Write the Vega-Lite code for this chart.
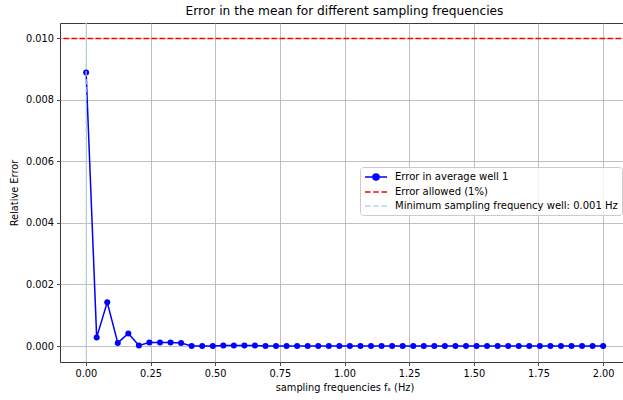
{
  "$schema": "https://vega.github.io/schema/vega-lite/v6.json",
  "width": 569,
  "height": 339,
  "autosize": {"type": "none"},
  "padding": {"left": 60, "top": 23, "right": 0, "bottom": 38},
  "title": {"text": "Error in the mean for different sampling frequencies", "fontSize": 12.2, "fontWeight": "normal", "font": "DejaVu Sans", "color": "#000", "anchor": "middle", "offset": 5},
  "config": {
    "font": "DejaVu Sans",
    "view": {"stroke": "#3a3a3a", "strokeWidth": 1},
    "axis": {"domain": false, "grid": true, "gridColor": "#b0b0b0", "gridWidth": 0.8, "tickColor": "#222", "tickSize": 3.5, "tickWidth": 0.8, "labelFontSize": 9.8, "labelColor": "#000", "titleFontSize": 9.8, "titleFontWeight": "normal", "titleColor": "#000", "labelPadding": 3, "labelFont": "DejaVu Sans", "titleFont": "DejaVu Sans"}
  },
  "datasets": {
    "err": [
      {"f": 0.001, "err": 0.00889, "series": "Error in average well 1"},
      {"f": 0.0418, "err": 0.00028, "series": "Error in average well 1"},
      {"f": 0.0826, "err": 0.00142, "series": "Error in average well 1"},
      {"f": 0.1234, "err": 0.0001, "series": "Error in average well 1"},
      {"f": 0.1642, "err": 0.00041, "series": "Error in average well 1"},
      {"f": 0.205, "err": 0.00002, "series": "Error in average well 1"},
      {"f": 0.2458, "err": 0.000117, "series": "Error in average well 1"},
      {"f": 0.2866, "err": 0.000117, "series": "Error in average well 1"},
      {"f": 0.3274, "err": 0.000117, "series": "Error in average well 1"},
      {"f": 0.3682, "err": 0.0001, "series": "Error in average well 1"},
      {"f": 0.409, "err": 0.0, "series": "Error in average well 1"},
      {"f": 0.4498, "err": 0.0, "series": "Error in average well 1"},
      {"f": 0.4906, "err": 0.0, "series": "Error in average well 1"},
      {"f": 0.5314, "err": 0.00002, "series": "Error in average well 1"},
      {"f": 0.5721, "err": 0.00002, "series": "Error in average well 1"},
      {"f": 0.6129, "err": 0.00002, "series": "Error in average well 1"},
      {"f": 0.6537, "err": 0.00002, "series": "Error in average well 1"},
      {"f": 0.6945, "err": 0.0, "series": "Error in average well 1"},
      {"f": 0.7353, "err": 0.0, "series": "Error in average well 1"},
      {"f": 0.7761, "err": 0.0, "series": "Error in average well 1"},
      {"f": 0.8169, "err": 0.0, "series": "Error in average well 1"},
      {"f": 0.8577, "err": 0.0, "series": "Error in average well 1"},
      {"f": 0.8985, "err": 0.0, "series": "Error in average well 1"},
      {"f": 0.9393, "err": 0.0, "series": "Error in average well 1"},
      {"f": 0.9801, "err": 0.0, "series": "Error in average well 1"},
      {"f": 1.0209, "err": 0.0, "series": "Error in average well 1"},
      {"f": 1.0617, "err": 0.0, "series": "Error in average well 1"},
      {"f": 1.1025, "err": 0.0, "series": "Error in average well 1"},
      {"f": 1.1433, "err": 0.0, "series": "Error in average well 1"},
      {"f": 1.1841, "err": 0.0, "series": "Error in average well 1"},
      {"f": 1.2249, "err": 0.0, "series": "Error in average well 1"},
      {"f": 1.2657, "err": 0.0, "series": "Error in average well 1"},
      {"f": 1.3065, "err": 0.0, "series": "Error in average well 1"},
      {"f": 1.3473, "err": 0.0, "series": "Error in average well 1"},
      {"f": 1.3881, "err": 0.0, "series": "Error in average well 1"},
      {"f": 1.4289, "err": 0.0, "series": "Error in average well 1"},
      {"f": 1.4697, "err": 0.0, "series": "Error in average well 1"},
      {"f": 1.5105, "err": 0.0, "series": "Error in average well 1"},
      {"f": 1.5513, "err": 0.0, "series": "Error in average well 1"},
      {"f": 1.5921, "err": 0.0, "series": "Error in average well 1"},
      {"f": 1.6329, "err": 0.0, "series": "Error in average well 1"},
      {"f": 1.6737, "err": 0.0, "series": "Error in average well 1"},
      {"f": 1.7145, "err": 0.0, "series": "Error in average well 1"},
      {"f": 1.7553, "err": 0.0, "series": "Error in average well 1"},
      {"f": 1.7961, "err": 0.0, "series": "Error in average well 1"},
      {"f": 1.8369, "err": 0.0, "series": "Error in average well 1"},
      {"f": 1.8777, "err": 0.0, "series": "Error in average well 1"},
      {"f": 1.9185, "err": 0.0, "series": "Error in average well 1"},
      {"f": 1.9592, "err": 0.0, "series": "Error in average well 1"},
      {"f": 2.0, "err": 0.0, "series": "Error in average well 1"}
    ]
  },
  "layer": [
    {
      "data": {"name": "err"},
      "mark": {"type": "line", "strokeWidth": 1.5},
      "encoding": {
        "x": {"field": "f", "type": "quantitative", "scale": {"domain": [-0.1, 2.1], "nice": false, "zero": false}, "axis": {"values": [0, 0.25, 0.5, 0.75, 1, 1.25, 1.5, 1.75, 2], "format": ".2f", "title": "sampling frequencies fₛ (Hz)", "titlePadding": 4}},
        "y": {"field": "err", "type": "quantitative", "scale": {"domain": [-0.00052, 0.0105], "nice": false, "zero": false}, "axis": {"values": [0, 0.002, 0.004, 0.006, 0.008, 0.01], "format": ".3f", "title": "Relative Error", "titlePadding": 6}},
        "stroke": {
          "field": "series",
          "type": "nominal",
          "scale": {"domain": ["Error in average well 1", "Error allowed (1%)", "Minimum sampling frequency well: 0.001 Hz"], "range": ["blue", "red", "lightblue"]},
          "legend": {
            "title": null,
            "orient": "none",
            "legendX": 300,
            "legendY": 144,
            "fillColor": "rgba(255,255,255,0.8)",
            "strokeColor": "#cccccc",
            "cornerRadius": 3,
            "padding": 4,
            "labelFontSize": 10,
            "labelColor": "#000",
            "labelFont": "DejaVu Sans",
            "labelLimit": 400,
            "labelOffset": 13,
            "symbolOffset": 6,
            "symbolSize": 100,
            "symbolStrokeWidth": 1.5,
            "rowPadding": 3,
            "encode": {
              "symbols": {
                "update": {
                  "shape": {"signal": "datum.value === 'Error in average well 1' ? 'M-2.2,0H2.2M0.6,0A0.6,0.6 0 1,1 -0.6,0A0.6,0.6 0 1,1 0.6,0Z' : 'M-2.2,0H-1.1M-0.55,0H0.55M1.1,0H2.2'"},
                  "fill": {"signal": "datum.value === 'Error in average well 1' ? 'blue' : 'transparent'"},
                  "strokeDash": {"value": []}
                }
              }
            }
          }
        }
      }
    },
    {
      "data": {"name": "err"},
      "mark": {"type": "point", "filled": true, "size": 36, "color": "blue", "opacity": 1},
      "encoding": {
        "x": {"field": "f", "type": "quantitative"},
        "y": {"field": "err", "type": "quantitative"}
      }
    },
    {
      "data": {"values": [{"series": "Error allowed (1%)", "level": 0.01}]},
      "mark": {"type": "rule", "strokeDash": [5.5, 2.5], "strokeWidth": 1.5},
      "encoding": {
        "y": {"field": "level", "type": "quantitative"},
        "stroke": {"field": "series", "type": "nominal"}
      }
    },
    {
      "data": {"values": [{"series": "Minimum sampling frequency well: 0.001 Hz", "freq": 0.001}]},
      "mark": {"type": "rule", "strokeDash": [5.5, 2.5], "strokeWidth": 1.2},
      "encoding": {
        "x": {"field": "freq", "type": "quantitative"},
        "stroke": {"field": "series", "type": "nominal"}
      }
    }
  ]
}
